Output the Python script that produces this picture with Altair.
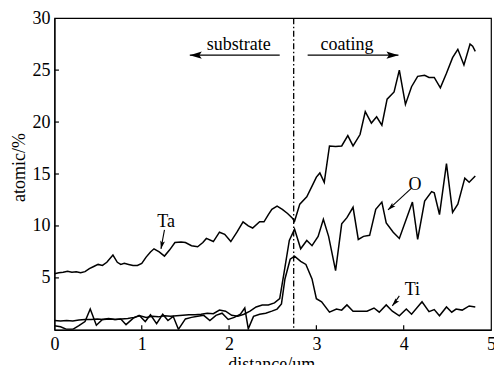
import altair as alt
import pandas as pd

# ---- data ----
ta_x = [0.00,0.05,0.10,0.15,0.20,0.25,0.30,0.35,0.40,0.45,0.50,0.55,0.60,0.67,0.72,0.76,0.80,0.85,0.90,0.95,
        1.00,1.05,1.10,1.14,1.20,1.26,1.32,1.38,1.45,1.50,1.57,1.64,1.70,1.74,1.82,1.89,1.95,2.02,2.09,2.16,
        2.22,2.27,2.35,2.40,2.45,2.49,2.55,2.61,2.67,2.72,2.75,2.81,2.89,2.96,3.00,3.04,3.09,3.15,3.22,3.29,
        3.36,3.42,3.50,3.56,3.63,3.69,3.75,3.81,3.89,3.95,4.02,4.09,4.16,4.24,4.29,4.35,4.42,4.49,4.56,4.62,
        4.69,4.76,4.79,4.82]
ta_y = [5.4,5.5,5.55,5.65,5.55,5.6,5.5,5.6,5.9,6.1,6.3,6.2,6.5,7.2,6.5,6.3,6.4,6.3,6.2,6.2,
        6.4,7.0,7.5,7.8,7.5,7.1,7.7,8.4,8.45,8.4,8.1,8.0,8.4,8.8,8.5,9.4,9.2,8.5,9.4,10.4,
        10.0,9.8,10.4,10.4,11.1,11.6,11.9,11.6,11.2,10.8,10.45,12.1,12.8,14.0,14.7,15.1,14.2,17.7,17.65,17.7,
        18.7,17.7,18.8,21.0,19.9,20.5,19.7,22.2,22.9,25.0,21.7,23.4,24.4,24.5,24.3,24.3,23.3,24.7,26.2,27.0,
        25.5,27.5,27.3,26.8]

o_x = [0.00,0.07,0.14,0.21,0.28,0.35,0.42,0.49,0.56,0.63,0.70,0.77,0.84,0.91,0.98,1.05,1.12,1.19,1.26,1.33,
       1.40,1.47,1.54,1.61,1.68,1.75,1.82,1.89,1.96,2.03,2.10,2.17,2.24,2.31,2.38,2.45,2.52,
       2.58,2.63,2.69,2.75,2.82,2.89,2.95,3.02,3.08,3.14,3.22,3.29,3.35,3.42,3.48,3.54,3.61,3.68,3.75,
       3.80,3.88,3.95,4.10,4.16,4.24,4.32,4.35,4.41,4.49,4.56,4.62,4.70,4.75,4.82]
o_y = [0.9,0.85,0.9,0.85,0.95,1.0,1.0,1.05,1.0,1.05,1.0,1.05,1.1,1.2,1.35,1.2,1.3,1.25,1.35,1.3,
       1.35,1.4,1.45,1.45,1.5,1.6,1.55,1.9,1.8,1.4,1.3,1.5,1.8,2.2,2.4,2.4,2.6,
       3.0,5.5,8.6,9.7,7.8,8.6,8.1,9.0,10.65,9.0,5.7,10.2,10.8,11.8,8.7,9.0,9.1,11.6,12.3,
       10.3,9.4,8.8,12.3,8.7,12.4,13.3,13.2,11.1,16.0,11.3,12.1,14.6,14.2,14.8]

ti_x = [0.00,0.07,0.14,0.21,0.28,0.35,0.41,0.48,0.55,0.62,0.69,0.76,0.82,0.90,0.97,1.04,1.10,1.17,1.24,1.30,
        1.36,1.42,1.50,1.57,1.64,1.71,1.78,1.85,1.92,1.99,2.06,2.13,2.18,2.22,2.28,2.35,2.42,2.49,2.55,2.60,
        2.64,2.70,2.75,2.82,2.88,2.95,3.00,3.06,3.15,3.23,3.29,3.35,3.42,3.58,3.66,3.72,3.80,3.87,3.95,4.03,
        4.09,4.21,4.29,4.35,4.41,4.49,4.55,4.60,4.67,4.75,4.82]
ti_y = [0.4,0.3,0.05,0.05,0.4,0.8,2.0,0.45,1.0,1.1,1.0,1.05,0.5,1.1,1.4,0.8,1.45,0.6,1.5,0.9,
        1.3,0.05,1.05,1.2,1.3,1.4,0.9,1.4,1.6,1.0,1.2,1.5,2.1,0.1,1.3,1.5,1.6,1.8,2.0,2.5,
        4.9,6.8,7.1,6.6,6.3,4.9,3.0,2.7,1.7,2.0,1.9,2.4,1.8,1.8,2.1,1.7,2.4,1.8,1.35,2.0,
        1.5,2.7,1.75,1.95,1.35,2.2,1.7,2.0,1.9,2.3,2.2]

x_ticks = [0, 1, 2, 3, 4, 5]
y_ticks = [5, 10, 15, 20, 25, 30]
boundary_x = [2.74]

# annotations (data units)
label_text = ["substrate", "coating", "Ta", "O", "Ti"]
label_x = [2.11, 3.35, 1.28, 4.13, 4.10]
label_y = [26.9, 26.95, 9.9, 13.46, 3.37]

arrow_x1 = [2.58, 2.90, 1.26, 4.09, 3.95]
arrow_y1 = [26.44, 26.44, 9.62, 13.65, 3.27]
arrow_x2 = [1.55, 3.94, 1.22, 3.82, 3.87]
arrow_y2 = [26.44, 26.44, 7.79, 11.54, 2.31]
arrow_angle = [270, 90, 192, 227.5, 219]
arrow_size = [576, 576, 256, 256, 256]

FONT = "Liberation Serif"
FS = 18

frames = []
for name, xs_, ys_ in [("Ta", ta_x, ta_y), ("O", o_x, o_y), ("Ti", ti_x, ti_y)]:
    frames.append(pd.DataFrame({"x": xs_, "y": ys_, "series": name}))
df = pd.concat(frames, ignore_index=True)

xs = alt.Scale(domain=[0, 5], nice=False, zero=False)
ys = alt.Scale(domain=[0, 30], nice=False, zero=False)

x_axis = alt.Axis(
    values=x_ticks, title="distance/um", grid=False, ticks=False, tickSize=0,
    domainColor="black", domainWidth=1.2, labelFont=FONT, labelFontSize=FS,
    labelColor="black", labelBaseline="alphabetic", labelPadding=20,
    labelFlush=False, labelOverlap=False,
    titleFont=FONT, titleFontSize=FS, titleFontWeight="normal", titleColor="black",
    titleBaseline="alphabetic", titleX=217, titleY=39.5)
y_axis = alt.Axis(
    values=y_ticks, title="atomic/%", grid=False, ticks=False, tickSize=0,
    domainColor="black", domainWidth=1.2, labelFont=FONT, labelFontSize=FS,
    labelColor="black", labelPadding=4.5, labelFlush=False, labelOverlap=False,
    titleFont=FONT, titleFontSize=FS, titleFontWeight="normal", titleColor="black",
    titleBaseline="alphabetic", titleX=-29.5, titleY=149)

lines = alt.Chart(df).mark_line(color="black", strokeWidth=1.5, clip=True).encode(
    x=alt.X("x:Q", scale=xs, axis=x_axis),
    y=alt.Y("y:Q", scale=ys, axis=y_axis),
    detail="series:N",
)

ytick_df = pd.DataFrame({"v": y_ticks[:-1]})
ytk = alt.Chart(ytick_df).mark_rule(color="black", strokeWidth=1.2).encode(
    y=alt.Y("v:Q", scale=ys, axis=y_axis), x=alt.value(0), x2=alt.value(4.5))
xtick_df = pd.DataFrame({"v": x_ticks[1:-1]})
xtk = alt.Chart(xtick_df).mark_rule(color="black", strokeWidth=1.2).encode(
    x=alt.X("v:Q", scale=xs, axis=x_axis), y=alt.value(312), y2=alt.value(307.5))

bdf = pd.DataFrame({"b": boundary_x})
boundary = alt.Chart(bdf).mark_rule(color="black", strokeWidth=1.3, strokeDash=[6, 2.5, 1.5, 2.5]).encode(
    x=alt.X("b:Q", scale=xs, axis=x_axis), y=alt.value(0), y2=alt.value(312))

adf = pd.DataFrame({"x1": arrow_x1, "y1": arrow_y1, "x2": arrow_x2, "y2": arrow_y2,
                    "ang": arrow_angle, "sz": arrow_size})
arrow_lines = alt.Chart(adf).mark_rule(color="black", strokeWidth=1.1).encode(
    x=alt.X("x1:Q", scale=xs, axis=x_axis), y=alt.Y("y1:Q", scale=ys, axis=y_axis),
    x2="x2:Q", y2="y2:Q")
heads = alt.Chart(adf).mark_point(
    shape="M0,0L0.3,1L0,0.8L-0.3,1Z", filled=True, color="black", opacity=1, strokeWidth=0
).encode(
    x=alt.X("x2:Q", scale=xs, axis=x_axis), y=alt.Y("y2:Q", scale=ys, axis=y_axis),
    angle=alt.Angle("ang:Q", scale=None), size=alt.Size("sz:Q", scale=None, legend=None))

ldf = pd.DataFrame({"t": label_text, "x": label_x, "y": label_y})
labels = alt.Chart(ldf).mark_text(font=FONT, fontSize=FS, color="black", align="center",
                                  baseline="alphabetic").encode(
    x=alt.X("x:Q", scale=xs, axis=x_axis), y=alt.Y("y:Q", scale=ys, axis=y_axis), text="t:N")

chart = alt.layer(lines, ytk, xtk, boundary, arrow_lines, heads, labels).properties(
    width=437, height=312,
    autosize=alt.AutoSizeParams(type="none"),
    padding={"left": 54.5, "top": 18, "right": 3, "bottom": 35},
    background="white",
).configure_view(stroke="black", strokeWidth=1.2)

chart.save("out.html", embed_options={"renderer": "svg", "actions": False})
